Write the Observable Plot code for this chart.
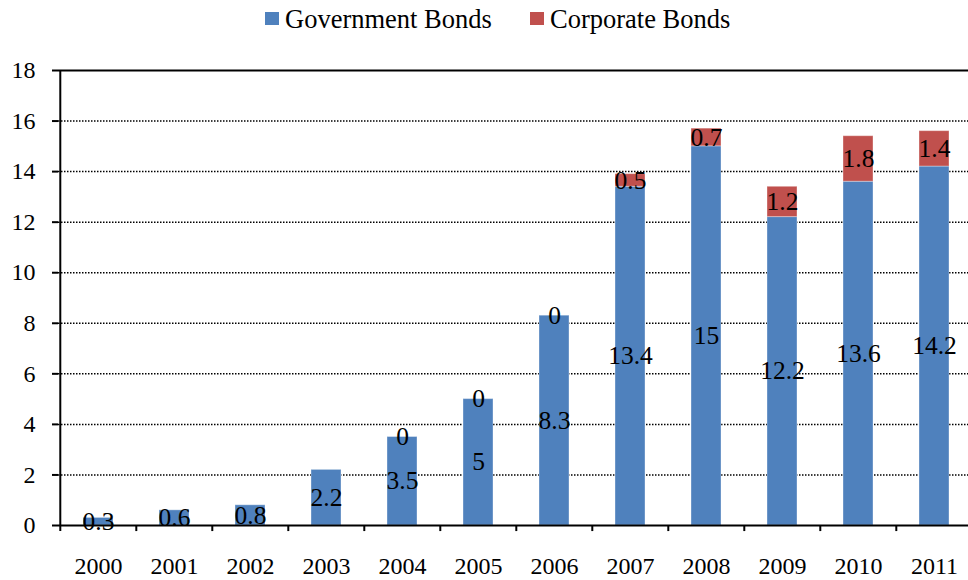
<!DOCTYPE html>
<html>
<head>
<meta charset="utf-8">
<script src="https://cdn.jsdelivr.net/npm/d3@7"></script>
<script src="https://cdn.jsdelivr.net/npm/@observablehq/plot@0.6"></script>
<style>
html, body { margin: 0; padding: 0; background: #fff; overflow: hidden; }
#wrap { position: relative; width: 968px; height: 580px; }
#wrap svg, #wrap svg text { font-family: "Liberation Serif", serif !important; }
.leg { position: absolute; top: 5.5px; font-family: "Liberation Serif", serif; font-size: 26.5px; line-height: 26.5px; color: #000; white-space: nowrap; }
.sw { position: absolute; top: 12px; width: 14px; height: 13px; }
</style>
</head>
<body>
<div id="wrap"></div>
<script>
const years = ["2000","2001","2002","2003","2004","2005","2006","2007","2008","2009","2010","2011"];
const governmentBonds = [0.3, 0.6, 0.8, 2.2, 3.5, 5, 8.3, 13.4, 15, 12.2, 13.6, 14.2];
const corporateBonds = [0, 0, 0, 0, 0, 0, 0, 0.5, 0.7, 1.2, 1.8, 1.4];
const corporateLabelShown = [false, false, false, false, true, true, true, true, true, true, true, true];
const seriesNames = ["Government Bonds", "Corporate Bonds"];
const seriesColors = ["#4F81BD", "#C0504D"];
const yTicks = [0, 2, 4, 6, 8, 10, 12, 14, 16, 18];

const rows = [
  ...years.map((y, i) => ({year: y, series: seriesNames[0], value: governmentBonds[i], label: String(governmentBonds[i])})),
  ...years.map((y, i) => ({year: y, series: seriesNames[1], value: corporateBonds[i], label: corporateLabelShown[i] ? String(corporateBonds[i]) : ""}))
];

const W = 968, H = 580, mL = 58, mR = -7, mT = 70, mB = 55;
const step = (W - mR - mL) / years.length;
const serif = "'Liberation Serif', serif";

const chart = Plot.plot({
  width: W,
  height: H,
  marginLeft: mL,
  marginRight: mR,
  marginTop: mT,
  marginBottom: mB,
  style: {fontFamily: serif, fontSize: "24px", color: "#000", background: "transparent"},
  x: {domain: years, paddingInner: 0.6, paddingOuter: 0.3, label: null},
  y: {domain: [0, 18], label: null},
  color: {domain: seriesNames, range: seriesColors},
  marks: [
    Plot.ruleY(yTicks.filter(t => t > 0 && t < 18), {stroke: "#000", strokeWidth: 1.5, strokeDasharray: "1.5,1.5"}),
    Plot.barY(rows, {x: "year", y: "value", fill: "series", stroke: "#fff", strokeOpacity: 0.35, strokeWidth: 1}),
    Plot.ruleY([18], {stroke: "#000", strokeWidth: 2}),
    Plot.ruleY([0], {stroke: "#000", strokeWidth: 2}),
    Plot.ruleX(years, {x: d => d, dx: -step / 2, y1: -0.24, y2: (d, i) => i === 0 ? 18 : 0, stroke: "#000", strokeWidth: 2}),
    Plot.axisY({ticks: yTicks, tickSize: 6, tickPadding: 17, strokeWidth: 2, fontSize: 24, fontFamily: serif, label: null}),
    Plot.axisX({tickSize: 0, tickPadding: 31, fontSize: 24, fontFamily: serif, label: null}),
    Plot.text(rows, Plot.stackY({x: "year", y: "value", z: "series", text: "label", fontSize: 25.5, fontFamily: serif, fill: "#000"}))
  ]
});

const wrap = document.getElementById("wrap");
wrap.appendChild(chart);

const legendLeft = [265, 530];
seriesNames.forEach((name, i) => {
  const sw = document.createElement("div");
  sw.className = "sw";
  sw.style.left = legendLeft[i] + "px";
  sw.style.background = seriesColors[i];
  wrap.appendChild(sw);
  const t = document.createElement("div");
  t.className = "leg";
  t.style.left = (legendLeft[i] + 20) + "px";
  t.textContent = name;
  wrap.appendChild(t);
});
</script>
</body>
</html>
